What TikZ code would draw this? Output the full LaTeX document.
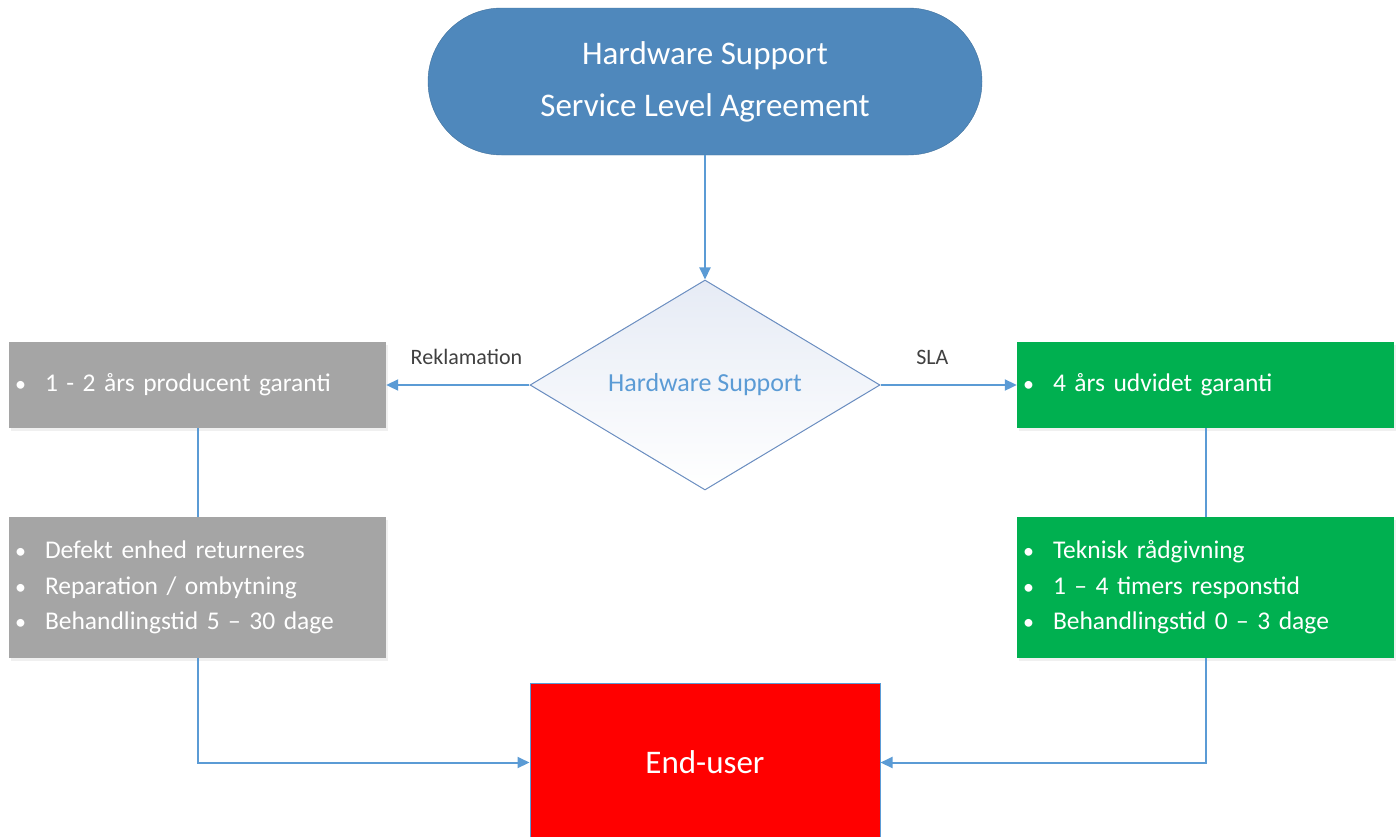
\documentclass[tikz,border=0pt]{standalone}
\usepackage{fontspec}
\setmainfont{Carlito}
\usetikzlibrary{shapes.geometric,arrows.meta,shadows}

\definecolor{pillblue}{HTML}{4F88BC}
\definecolor{pillline}{HTML}{41719C}
\definecolor{linkblue}{HTML}{5B9BD5}
\definecolor{choiceline}{HTML}{6A8DC0}
\definecolor{choicetop}{HTML}{E6EBF5}
\definecolor{slagray}{HTML}{A5A5A5}
\definecolor{slagreen}{HTML}{00B050}
\definecolor{labelgray}{HTML}{404040}

\newcommand\bul{\makebox[30pt][l]{\fontsize{22}{22}\selectfont•}}

\tikzset{
  pill/.style={draw=pillline, fill=pillblue, rounded corners=73.5pt, minimum width=554pt,
    minimum height=147pt, text=white, align=center, font=\fontsize{33}{52}\selectfont},
  choice/.style={diamond, draw=choiceline, line width=1pt, top color=choicetop, bottom color=white,
    aspect=1.667, minimum width=350pt, minimum height=210pt, inner sep=0pt,
    text=linkblue, font=\fontsize{26}{30}\selectfont},
  slabox/.style={minimum width=377pt, minimum height=86pt, text width=365pt, inner xsep=6pt,
    align=left, text=white, font=\fontsize{25.5}{35.5}\selectfont,
    drop shadow={opacity=0.12, shadow xshift=1.5pt, shadow yshift=-3pt}},
  graybox/.style={slabox, fill=slagray},
  greenbox/.style={slabox, fill=slagreen},
  enduser/.style={draw=linkblue, line width=1pt, fill=red, minimum width=350pt, minimum height=159pt,
    text=white, font=\fontsize{33}{40}\selectfont},
  flow/.style={draw=linkblue, line width=2pt, -{Triangle[length=12pt,width=11pt]}},
  link/.style={draw=linkblue, line width=2pt},
  edgelabel/.style={text=labelgray, font=\fontsize{22}{26}\selectfont, yshift=28pt}
}

\begin{document}
\begin{tikzpicture}[x=1pt, y=-1pt]
  \useasboundingbox (0,0) rectangle (1397,836);

  \node [pill] (sla) at (705,81.5) {Hardware Support\\Service Level Agreement};
  \node [choice] (hs) at (705,385) {Hardware Support};

  \node [graybox] (garanti) at (197.5,385) {\bul 1 - 2 års producent garanti};
  \node [graybox, minimum height=141pt] (retur) at (197.5,587.5)
        {\bul Defekt enhed returneres\\ \bul Reparation / ombytning\\ \bul Behandlingstid 5 – 30 dage};

  \node [greenbox] (udvidet) at (1205.5,385) {\bul 4 års udvidet garanti};
  \node [greenbox, minimum height=141pt] (raad) at (1205.5,587.5)
        {\bul Teknisk rådgivning\\ \bul 1 – 4 timers responstid\\ \bul Behandlingstid 0 – 3 dage};

  \node [enduser] (user) at (705,762.5) {End-user};

  \draw [flow] (sla) -- (hs);
  \draw [flow] (hs) -- node [pos=0.44, edgelabel] (reklabel) {Reklamation} (garanti);
  \draw [flow] (hs) -- node [pos=0.38, edgelabel] (slalabel) {SLA} (udvidet);
  \draw [link] (garanti) -- (retur);
  \draw [link] (udvidet) -- (raad);
  \draw [flow] (retur) |- (user);
  \draw [flow] (raad) |- (user);
\end{tikzpicture}
\end{document}
